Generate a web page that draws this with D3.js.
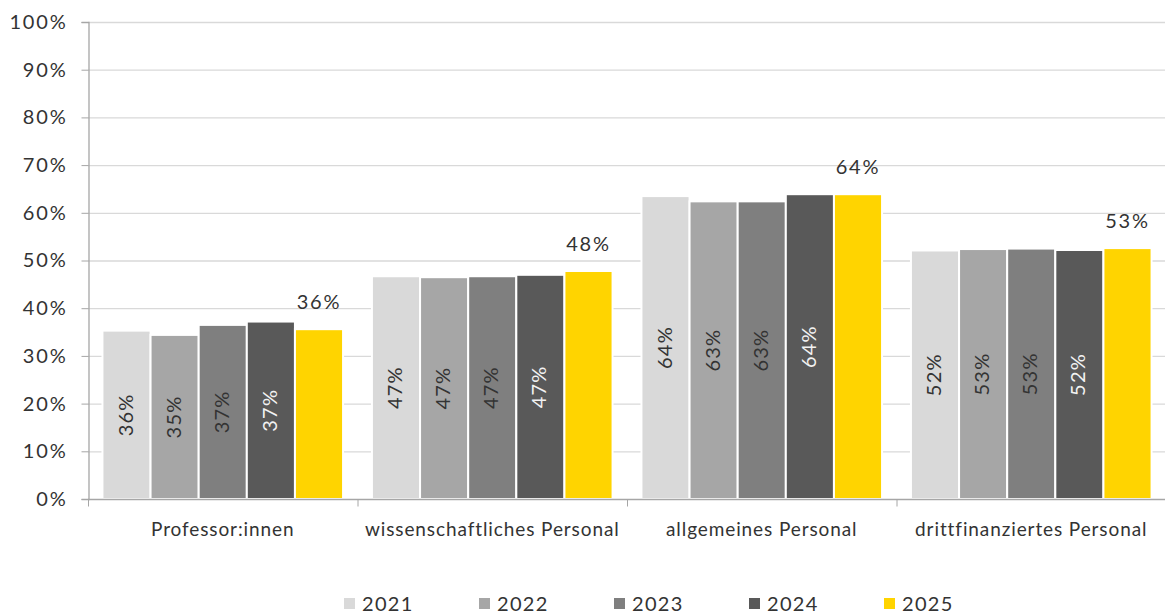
<!DOCTYPE html>
<html><head><meta charset="utf-8">
<script src="https://cdn.jsdelivr.net/npm/d3@7"></script>
<style>body{margin:0;background:#fff}svg{display:block;font-family:Lato,"Noto Sans",sans-serif}</style>
</head><body><svg id="c" width="1165" height="615"></svg>
<script>
const categories = ["Professor:innen","wissenschaftliches Personal","allgemeines Personal","drittfinanziertes Personal"];
const years = ["2021","2022","2023","2024","2025"];
const colors = ["#d9d9d9","#a6a6a6","#7f7f7f","#595959","#ffd400"];
// bar heights (%), per year
const v2021 = [35.3,46.7,63.5,52.1];
const v2022 = [34.4,46.5,62.4,52.4];
const v2023 = [36.5,46.7,62.4,52.5];
const v2024 = [37.2,47.0,63.9,52.2];
const v2025 = [35.6,47.8,63.9,52.6];
// label texts as printed
const l2021 = [36,47,64,52];
const l2022 = [35,47,63,53];
const l2023 = [37,47,63,53];
const l2024 = [37,47,64,52];
const l2025 = [36,48,64,53];
const yTicks = [0,10,20,30,40,50,60,70,80,90,100];

const values = [v2021,v2022,v2023,v2024,v2025];
const labels = [l2021,l2022,l2023,l2024,l2025];

const svg = d3.select("#c");
const L=88, R=1166, T=22, B=499;
const x0 = d3.scaleBand().domain(categories).range([L,R]).paddingInner(0).paddingOuter(0);
const x1 = d3.scaleBand().domain(years).range([0,x0.bandwidth()]).paddingOuter(0.3).paddingInner(0);
const y = d3.scaleLinear().domain([0,100]).range([B,T]);

// gridlines
svg.append("g").selectAll("line").data(yTicks.filter(d=>d>0)).join("line")
  .attr("x1",L).attr("x2",1165).attr("y1",d=>y(d)+0.5).attr("y2",d=>y(d)+0.5)
  .attr("stroke","#d9d9d9").attr("stroke-width",1.3);

// y axis
const ya = svg.append("g").attr("transform",`translate(${L+0.5},0)`)
  .call(d3.axisLeft(y).tickValues(yTicks).tickFormat(d=>d+"%").tickSize(7).tickPadding(14));
ya.select(".domain").attr("stroke","#a6a6a6").attr("stroke-width",1.3);
ya.selectAll(".tick line").attr("stroke","#a6a6a6");
ya.selectAll("text").attr("font-size",20).attr("fill","#333").attr("font-family","Lato")
  .attr("letter-spacing","1.8px");

// bars
const g = svg.append("g");
categories.forEach((c,ci)=>{
  years.forEach((yr,yi)=>{
    const v = values[yi][ci];
    const bx = x0(c)+x1(yr);
    const bw = x1.bandwidth();
    g.append("rect").attr("x",bx).attr("y",y(v)).attr("width",bw).attr("height",B-y(v))
      .attr("fill",colors[yi]).attr("stroke","#fff").attr("stroke-width",2);
    const cx = bx+bw/2;
    if (yi<4) {
      const cy = (y(v)+B)/2;
      g.append("text").attr("transform",`translate(${cx+6},${cy}) rotate(-90)`)
        .attr("text-anchor","middle").attr("font-size",20).attr("letter-spacing","1.2px")
        .attr("fill", yi===3 ? "#f2f2f2" : "#333")
        .text(labels[yi][ci]+"%");
    } else {
      g.append("text").attr("x",cx).attr("y",y(v)-20).attr("text-anchor","middle")
        .attr("font-size",20).attr("letter-spacing","1.8px").attr("fill","#333").text(labels[yi][ci]+"%");
    }
  });
});

// x axis
const xa = svg.append("g").attr("transform",`translate(0,${B+0.5})`);
xa.append("line").attr("x1",L).attr("x2",1165).attr("stroke","#a6a6a6").attr("stroke-width",1.3);
xa.selectAll("line.t").data(categories.concat(["_end"])).join("line").attr("class","t")
  .attr("x1",(d,i)=>L+i*x0.bandwidth()+0.5).attr("x2",(d,i)=>L+i*x0.bandwidth()+0.5)
  .attr("y1",0).attr("y2",7).attr("stroke","#a6a6a6");
xa.selectAll("text").data(categories).join("text")
  .attr("x",d=>x0(d)+x0.bandwidth()/2).attr("y",36).attr("text-anchor","middle")
  .attr("font-size",19).attr("letter-spacing","0.9px").attr("fill","#333").text(d=>d);

// legend
const lg = svg.append("g").attr("transform","translate(0,603)");
years.forEach((yr,i)=>{
  const lx = 344 + i*135;
  lg.append("rect").attr("x",lx).attr("y",-5).attr("width",11).attr("height",11).attr("fill",colors[i]);
  lg.append("text").attr("x",lx+18).attr("y",8).attr("font-size",20).attr("letter-spacing","1.3px")
    .attr("fill","#333").text(yr);
});
</script></body></html>
